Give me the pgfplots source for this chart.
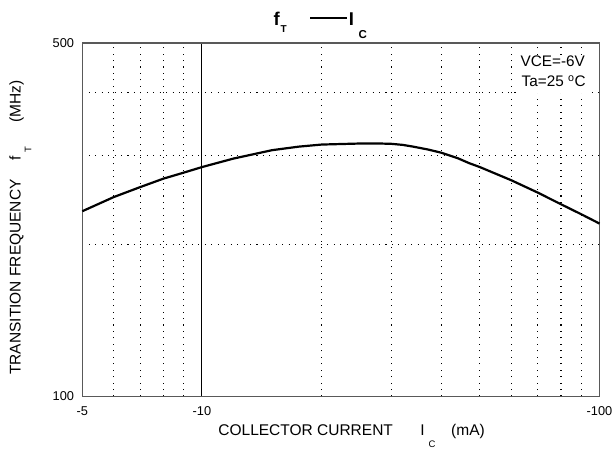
\documentclass[border=0pt]{standalone}
\usepackage{fontspec}
\setmainfont{Liberation Sans}
\usepackage{pgfplots}
\pgfplotsset{compat=1.18}
\begin{document}
\begin{tikzpicture}[x=1pt,y=1pt]
\begin{axis}[
  at={(82.3pt,51.5pt)}, anchor=south west,
  scale only axis, width=517.2pt, height=353.4pt,
  xmode=log, ymode=log,
  xmin=5, xmax=100, ymin=100, ymax=500,
  xtick={5,10,100}, xticklabels={-5,-10,-100},
  ytick={100,500}, yticklabels={100,500},
  minor xtick={6,7,8,9,20,30,40,50,60,70,80,90},
  minor ytick={200,300,400},
  xmajorgrids, xminorgrids, yminorgrids,
  major x grid style={black, line width=1pt, solid},
  minor grid style={black, line width=1.05pt, dash pattern=on 1.05pt off 5.4pt},
  major tick length=0pt, minor tick length=0pt,
  axis line style={black!65, line width=1.5pt},
  tick label style={font=\fontsize{12.8}{12.8}\selectfont},
  yticklabel style={anchor=east, inner sep=0pt, xshift=-8pt},
  xticklabel style={anchor=north, inner sep=0pt, yshift=-10pt},
  /pgf/number format/assume math mode=true,
  clip=false,
]
\addplot[black, line width=2.2pt] coordinates {
 (5,232.5) (6,248) (7,259.6) (8,269.7) (9,277.2) (10,284.3) (12,295.5)
 (15,307) (17.5,312) (20,315) (25,316.5) (28,316.5) (30,316) (32,314.5) (34,312)
 (37,308) (40,303.5) (44,296) (47,289.4) (50,284.3) (55,275.5)
 (60,267.7) (70,253) (80,240) (90,229.3) (100,219.8)
};
\end{axis}
% title
\node[anchor=base west, inner sep=0pt, font=\fontsize{18.5}{18.5}\selectfont\bfseries] at (273.5,422.3) {f};
\node[anchor=base west, inner sep=0pt, font=\fontsize{10}{10}\selectfont\bfseries] at (280.5,415.2) {T};
\draw[line width=1.8pt] (310,429.7) -- (347,429.7);
\node[anchor=base west, inner sep=0pt, font=\fontsize{18.5}{18.5}\selectfont\bfseries] at (348.6,422.3) {I};
\node[anchor=base west, inner sep=0pt, font=\fontsize{11.5}{11.5}\selectfont\bfseries] at (358.5,409) {C};
% x label
\node[anchor=base west, inner sep=0pt, font=\fontsize{15.5}{15.5}\selectfont] at (218.2,13) {COLLECTOR CURRENT};
\node[anchor=base west, inner sep=0pt, font=\fontsize{15.5}{15.5}\selectfont] at (420.2,13) {I};
\node[anchor=base west, inner sep=0pt, font=\fontsize{9.5}{9.5}\selectfont] at (428.5,0.5) {C};
\node[anchor=base west, inner sep=0pt, font=\fontsize{15.5}{15.5}\selectfont] at (451,13) {(mA)};
% y label
\node[rotate=90, anchor=base west, inner sep=0pt, font=\fontsize{15.5}{15.5}\selectfont] at (20.7,73) {TRANSITION FREQUENCY};
\node[rotate=90, anchor=base west, inner sep=0pt, font=\fontsize{15.5}{15.5}\selectfont] at (20.7,287) {f};
\node[rotate=90, anchor=base west, inner sep=0pt, font=\fontsize{9.5}{9.5}\selectfont] at (31.4,295) {T};
\node[rotate=90, anchor=base west, inner sep=0pt, font=\fontsize{15.5}{15.5}\selectfont] at (20.7,325) {(MHz)};
% annotations
\fill[white] (516,354.5) rectangle (591,391.5);
\node[anchor=base west, inner sep=0pt, font=\fontsize{15.3}{15.3}\selectfont] at (520.5,381.3) {VCE=-6V};
\node[anchor=base west, inner sep=0pt, font=\fontsize{15.3}{15.3}\selectfont] at (521.5,361.3) {Ta=25 \textsuperscript{o}C};
\pgfresetboundingbox
\useasboundingbox (0,0) rectangle (612,448);
\end{tikzpicture}
\end{document}
